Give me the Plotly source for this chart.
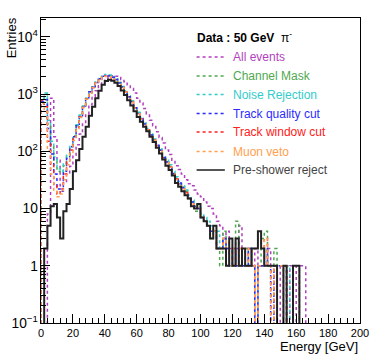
import plotly.graph_objects as go

# 2 GeV bins, left edges 0..168
bin_width = 2
bin_edges = [i * bin_width for i in range(86)]

all_events = [
    0, 0, 8, 850, 180, 70, 25, 28, 40, 55,
    85, 130, 200, 300, 450, 650, 900, 1150, 1400, 1650,
    1850, 2000, 2100, 2050, 1950, 1800, 1650, 1450, 1250, 1050,
    850, 700, 560, 450, 350, 280, 220, 175, 140, 105,
    88, 70, 56, 48, 40, 32, 27, 25, 21, 18,
    16, 13, 11, 10, 8, 6, 5, 3, 4, 2,
    1, 2, 5, 1, 2, 1, 1, 2, 1, 1,
    1, 2, 1, 1, 1, 0, 1, 0, 1, 1,
    0, 1, 1, 0, 0,
]
channel_mask = [
    650, 1000, 300, 130, 70, 45, 42, 56, 85, 125,
    185, 280, 420, 610, 840, 1080, 1330, 1600, 1850, 2050,
    2150, 2120, 2000, 1830, 1590, 1350, 1130, 920, 750, 590,
    470, 380, 305, 245, 195, 160, 130, 105, 80, 66,
    55, 40, 34, 27, 24, 20, 15, 13, 9, 10,
    8, 6, 5, 3, 4, 2, 1, 4, 2, 1,
    1, 6, 1, 1, 2, 2, 1, 1, 1, 3,
    4, 1, 1, 2, 1, 1, 0, 1, 1, 1,
    1, 0, 0, 0, 0,
]
noise_rejection = [
    700, 1050, 350, 150, 80, 50, 45, 60, 88, 130,
    190, 290, 430, 620, 850, 1100, 1350, 1620, 1870, 2080,
    2200, 2150, 2030, 1850, 1600, 1360, 1140, 930, 760, 600,
    480, 390, 310, 250, 200, 165, 135, 110, 82, 70,
    58, 45, 36, 30, 25, 21, 17, 14, 12, 11,
    8, 7, 6, 5, 4, 4, 2, 3, 2, 1,
    2, 1, 2, 1, 1, 2, 1, 0, 1, 1,
    2, 1, 0, 1, 1, 1, 1, 1, 0, 0,
    0, 0, 0, 0, 0,
]
track_quality = [
    750, 800, 250, 90, 40, 22, 20, 45, 75, 120,
    180, 280, 420, 620, 860, 1100, 1350, 1600, 1850, 2050,
    2120, 2080, 1980, 1800, 1560, 1330, 1110, 900, 740, 580,
    460, 375, 300, 240, 192, 158, 128, 104, 78, 65,
    54, 41, 34, 28, 23, 19, 15, 13, 11, 10,
    7, 6, 5, 4, 4, 2, 2, 3, 2, 1,
    2, 1, 2, 1, 1, 2, 1, 0, 1, 1,
    2, 1, 0, 1, 1, 1, 1, 0, 0, 0,
    0, 0, 0, 0, 0,
]
track_window = [
    780, 600, 150, 60, 25, 18, 22, 40, 65, 105,
    165, 260, 400, 590, 820, 1060, 1300, 1560, 1800, 1980,
    2050, 2020, 1930, 1760, 1530, 1300, 1090, 890, 730, 575,
    455, 370, 298, 238, 190, 156, 126, 102, 77, 64,
    53, 40, 33, 27, 22, 19, 15, 12, 11, 10,
    7, 6, 5, 4, 4, 2, 2, 3, 2, 1,
    2, 1, 2, 1, 1, 2, 1, 0, 1, 1,
    3, 1, 0, 1, 1, 1, 1, 0, 0, 0,
    0, 0, 0, 0, 0,
]
muon_veto = [
    700, 500, 100, 40, 20, 16, 18, 32, 58, 95,
    155, 250, 390, 580, 810, 1050, 1290, 1550, 1790, 1970,
    2040, 2010, 1920, 1750, 1520, 1290, 1080, 880, 720, 570,
    450, 365, 295, 235, 188, 154, 124, 100, 76, 63,
    52, 40, 32, 27, 22, 18, 15, 12, 11, 10,
    7, 6, 5, 4, 4, 2, 2, 3, 2, 1,
    2, 1, 2, 1, 1, 2, 1, 0, 1, 1,
    3, 1, 0, 1, 1, 1, 1, 0, 0, 0,
    0, 0, 0, 0, 0,
]
preshower_reject = [
    0, 2, 5, 11, 12, 7, 3, 9, 12, 22,
    45, 70, 110, 180, 270, 420, 600, 850, 1150, 1450,
    1700, 1780, 1720, 1580, 1380, 1160, 960, 780, 630, 500,
    400, 330, 270, 225, 180, 145, 115, 92, 72, 56,
    47, 38, 28, 24, 20, 17, 15, 11, 10, 12,
    7, 6, 5, 3, 5, 2, 2, 2, 1, 3,
    1, 3, 1, 2, 1, 1, 2, 2, 4, 2,
    1, 1, 1, 1, 0, 0, 1, 0, 0, 1,
    1, 0, 0, 0, 0,
]

series = [
    ("All events", all_events, "#b23fbf", "dot"),
    ("Channel Mask", channel_mask, "#4fa84f", "dot"),
    ("Noise Rejection", noise_rejection, "#33cccc", "dot"),
    ("Track quality cut", track_quality, "#2b2bff", "dot"),
    ("Track window cut", track_window, "#ff2020", "dot"),
    ("Muon veto", muon_veto, "#ffa050", "dot"),
    ("Pre-shower reject", preshower_reject, "#222222", "solid"),
]

FLOOR = 1e-3  # empty bins drop below the axis like ROOT does
FONT = "Liberation Sans, Arial, Helvetica, sans-serif"

# plot frame in pixels
L, R, T, B = 41, 369, 18, 323


def px(x):
    return (x - L) / (R - L)


def py(y):
    return (B - y) / (B - T)


fig = go.Figure()
for name, vals, color, dash in series:
    ys = [FLOOR] + [v if v > 0 else FLOOR for v in vals] + [FLOOR]
    xs = [bin_edges[0]] + bin_edges
    fig.add_trace(go.Scatter(
        x=xs, y=ys, mode="lines", name=name, showlegend=False,
        line=dict(color=color, width=2 if dash == "solid" else 1.5,
                  dash=dash, shape="hv"),
        hoverinfo="skip",
    ))

# hand-built ROOT style legend
shapes = []
annotations = [dict(
    x=px(199), y=py(37), xref="paper", yref="paper",
    text="<b>Data : 50 GeV</b>  π<sup>-</sup>", showarrow=False,
    xanchor="left", yanchor="middle",
    font=dict(family=FONT, size=12, color="black"),
)]
row_y = [57, 76, 94.5, 113.5, 132, 151.5, 170]
for (name, vals, color, dash), ry in zip(series, row_y):
    line_color = "#555555" if dash == "solid" else color
    text_color = "#444444" if dash == "solid" else color
    shapes.append(dict(
        type="line", xref="paper", yref="paper",
        x0=px(201), x1=px(230), y0=py(ry), y1=py(ry),
        line=dict(color=line_color, width=2 if dash == "solid" else 1.3,
                  dash=dash),
    ))
    annotations.append(dict(
        x=px(236.5), y=py(ry), xref="paper", yref="paper", text=name,
        showarrow=False, xanchor="left", yanchor="middle",
        font=dict(family=FONT, size=12, color=text_color),
    ))

annotations.append(dict(
    x=1.0, y=py(346), xref="paper", yref="paper", text="Energy [GeV]",
    showarrow=False, xanchor="right", yanchor="middle",
    font=dict(family=FONT, size=13, color="black"),
))
annotations.append(dict(
    x=px(11), y=py(15), xref="paper", yref="paper", text="Entries",
    showarrow=False, xanchor="center", yanchor="top", textangle=-90,
    font=dict(family=FONT, size=13, color="black"),
))

fig.update_layout(
    width=374, height=359,
    margin=dict(l=L, r=374 - R, t=T, b=359 - B, pad=0),
    paper_bgcolor="white", plot_bgcolor="white",
    font=dict(family=FONT, size=11, color="black"),
    shapes=shapes, annotations=annotations,
    xaxis=dict(
        range=[0, 200], dtick=20, tick0=0, ticklabeloverflow="allow",
        ticks="inside", ticklen=9, tickwidth=1, tickcolor="black",
        minor=dict(ticks="inside", ticklen=5, dtick=4, tick0=0,
                   tickcolor="black"),
        showline=True, linecolor="black", linewidth=1, mirror=True,
        showgrid=False, zeroline=False,
    ),
    yaxis=dict(
        type="log", range=[-1, 4.33], dtick=1, exponentformat="power",
        ticks="inside", ticklen=9, tickwidth=1, tickcolor="black",
        minor=dict(ticks="inside", ticklen=5, dtick="D1", tickcolor="black"),
        showline=True, linecolor="black", linewidth=1, mirror=True,
        showgrid=False, zeroline=False,
    ),
)

# drop the browser's default 8px body margin so the figure sits at 0,0
fig.write_html("out.html", config={"displayModeBar": False},
               post_script="document.body.style.margin='0';")
